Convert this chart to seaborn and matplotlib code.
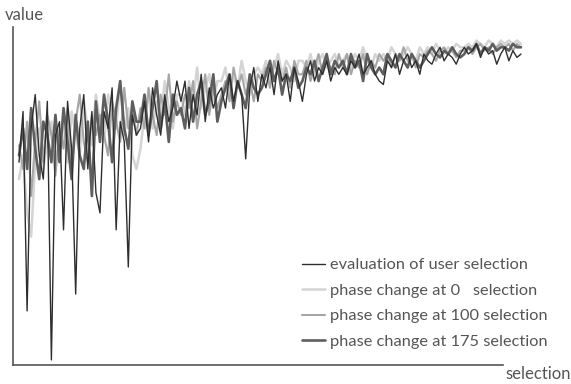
import numpy as np
import pandas as pd
import matplotlib
matplotlib.use("Agg")
import matplotlib.pyplot as plt
import seaborn as sns

# selection index (every 2nd selection)
selection = list(range(0, 250, 2))

evaluation = [
    60, 75, 16, 70, 80, 62, 55, 78, 1.5, 68,
    72, 40, 78, 64, 21, 70, 80, 58, 75, 51,
    45, 75, 70, 82, 40, 72, 66, 29, 74, 68,
    70, 78, 66, 82, 74, 68, 80, 72, 76, 84,
    78, 84, 70, 80, 74, 86, 72, 82, 76, 80,
    82, 76, 86, 78, 84, 80, 61, 82, 88, 78,
    86, 82, 88, 80, 90, 84, 86, 78, 88, 84,
    78, 86, 90, 84, 88, 86, 90, 84, 88, 86,
    88, 86, 90, 88, 92, 86, 88, 90, 86, 84,
    83, 90, 88, 92, 86, 90, 92, 88, 90, 86,
    92, 90, 89, 92, 94, 90, 92, 91, 89, 92,
    94, 92, 93, 95, 91, 94, 92, 93, 89, 92,
    94, 90, 93, 91, 92,
]
phase0 = [
    55, 62, 45, 38, 60, 70, 58, 66, 72, 60,
    66, 72, 60, 75, 68, 62, 78, 70, 65, 80,
    72, 66, 80, 74, 70, 84, 68, 76, 62, 58,
    64, 74, 80, 70, 78, 72, 84, 76, 70, 80,
    80, 74, 84, 78, 88, 76, 82, 86, 78, 84,
    84, 88, 80, 86, 82, 90, 84, 80, 86, 88,
    86, 90, 84, 88, 92, 86, 90, 88, 84, 90,
    90, 88, 92, 86, 90, 92, 88, 90, 92, 88,
    90, 92, 88, 92, 90, 94, 90, 88, 92, 90,
    92, 90, 94, 92, 90, 92, 94, 92, 90, 94,
    92, 94, 92, 95, 93, 92, 94, 93, 95, 94,
    94, 95, 94, 96, 95, 94, 96, 95, 94, 96,
    95, 96, 95, 96, 95,
]
phase100 = [
    65, 58, 72, 50, 66, 78, 60, 74, 68, 56,
    70, 64, 76, 58, 72, 80, 66, 60, 74, 68,
    74, 68, 62, 78, 72, 66, 82, 70, 76, 68,
    76, 70, 82, 74, 68, 80, 74, 86, 72, 78,
    74, 80, 76, 84, 70, 78, 86, 74, 82, 76,
    80, 84, 78, 88, 82, 86, 80, 84, 78, 86,
    84, 88, 82, 90, 86, 84, 88, 82, 90, 86,
    86, 90, 84, 88, 92, 86, 90, 88, 86, 92,
    88, 92, 86, 90, 88, 92, 86, 90, 88, 92,
    90, 92, 88, 92, 90, 94, 90, 92, 88, 92,
    91, 93, 92, 90, 93, 94, 92, 93, 91, 93,
    93, 94, 92, 94, 95, 93, 94, 92, 94, 95,
    94, 95, 93, 95, 94,
]
phase175 = [
    62, 70, 58, 76, 64, 55, 72, 68, 60, 74,
    60, 76, 66, 55, 74, 62, 58, 72, 50, 78,
    66, 80, 72, 60, 76, 84, 70, 64, 78, 72,
    72, 80, 68, 76, 84, 70, 78, 66, 80, 74,
    76, 70, 82, 72, 80, 84, 74, 78, 86, 72,
    78, 82, 86, 76, 84, 80, 76, 86, 82, 80,
    82, 86, 90, 84, 88, 80, 86, 84, 88, 82,
    84, 88, 86, 90, 84, 88, 92, 86, 90, 88,
    90, 86, 92, 88, 90, 84, 92, 88, 86, 88,
    86, 92, 90, 88, 92, 90, 88, 92, 90, 88,
    90, 92, 94, 92, 91, 93, 92, 94, 92, 91,
    92, 94, 93, 95, 92, 94, 93, 95, 93, 94,
    94, 93, 95, 94, 94,
]

labels = [
    "evaluation of user selection",
    "phase change at 0   selection",
    "phase change at 100 selection",
    "phase change at 175 selection",
]

sns.set_theme(style="white")
plt.rcParams["font.family"] = ["Lato", "DejaVu Sans"]

W, H = 571, 384
fig = plt.figure(figsize=(W / 100, H / 100), dpi=100)
fig.patch.set_facecolor("white")
ax_left, ax_right, ax_top, ax_bot = 13, 525, 27, 365
ax = fig.add_axes([ax_left / W, 1 - ax_bot / H, (ax_right - ax_left) / W, (ax_bot - ax_top) / H])
ax.set_facecolor("white")

styles = {
    labels[0]: dict(color="#2e2e2e", lw=1.0, z=5),
    labels[1]: dict(color="#d4d4d4", lw=1.8, z=2),
    labels[2]: dict(color="#a6a6a6", lw=1.5, z=3),
    labels[3]: dict(color="#5e5e5e", lw=1.9, z=4),
}
series = [evaluation, phase0, phase100, phase175]
handles = {}
for lab, vals in zip(labels, series):
    st = styles[lab]
    df = pd.DataFrame({"selection": selection, "value": vals})
    sns.lineplot(data=df, x="selection", y="value", ax=ax, color=st["color"],
                 linewidth=st["lw"], zorder=st["z"], label=lab, legend=False)
    handles[lab] = ax.lines[-1]

# x mapping: px 19 -> 0, px 521 -> 248
x_per_px = 248 / (521 - 19)
x0 = 0 - (19 - ax_left) * x_per_px
x1 = 248 + (ax_right - 521) * x_per_px
ax.set_xlim(x0, x1)
ax.set_ylim(0, 100)

for s in ["top", "right"]:
    ax.spines[s].set_visible(False)
for s in ["left", "bottom"]:
    ax.spines[s].set_color("#555555")
    ax.spines[s].set_linewidth(1.2)
ax.spines["bottom"].set_bounds(x0, x0 + (503 - ax_left) * x_per_px)
ax.set_xticks([])
ax.set_yticks([])
ax.set_xlabel("")
ax.set_ylabel("")

txtcol = "#555555"
fig.text(5 / W, 1 - 15 / H, "value", ha="left", va="center", fontsize=12, color=txtcol)
fig.text(505 / W, 1 - 374 / H, "selection", ha="left", va="center", fontsize=12, color=txtcol)

leg = ax.legend([handles[l] for l in labels], labels, loc="upper left",
                bbox_to_anchor=(302 / W, 1 - 258 / H), bbox_transform=fig.transFigure,
                frameon=False, fontsize=11.8, handlelength=1.4, handletextpad=0.3,
                labelspacing=0.67, borderpad=0, borderaxespad=0)
for t in leg.get_texts():
    t.set_color(txtcol)

fig.savefig("out.png", dpi=100, facecolor="white")
